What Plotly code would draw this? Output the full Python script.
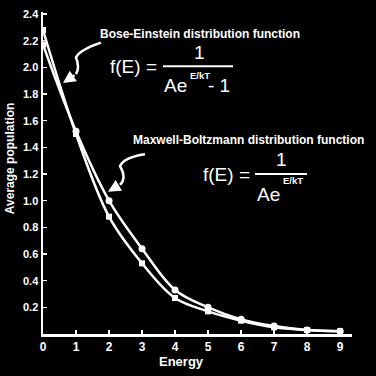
import plotly.graph_objects as go

energy = [0, 1, 2, 3, 4, 5, 6, 7, 8, 9]
bose_einstein = [2.28, 1.50, 0.88, 0.53, 0.27, 0.17, 0.10, 0.05, 0.03, 0.02]
maxwell_boltzmann = [2.17, 1.52, 1.00, 0.64, 0.33, 0.20, 0.11, 0.06, 0.03, 0.02]
x_ticks = [0, 1, 2, 3, 4, 5, 6, 7, 8, 9]
y_ticks = [0.2, 0.4, 0.6, 0.8, 1.0, 1.2, 1.4, 1.6, 1.8, 2.0, 2.2, 2.4]
y_tick_text = ["0.2", "0.4", "0.6", "0.8", "1.0", "1.2", "1.4", "1.6", "1.8", "2.0", "2.2", "2.4"]

W = H = 376
L, R, T, B = 43, 24, 8, 42
PW, PH = W - L - R, H - T - B

def px(x, y):
    return (x - L) / PW, (H - B - y) / PH

FONT = "Liberation Sans Narrow, Liberation Sans, Arial, sans-serif"
fig = go.Figure()
fig.add_trace(go.Scatter(x=energy, y=maxwell_boltzmann, mode="lines+markers",
                         line=dict(color="white", width=2.5, shape="spline"),
                         marker=dict(symbol="circle", size=7, color="white"),
                         name="Maxwell-Boltzmann", hoverinfo="skip"))
fig.add_trace(go.Scatter(x=energy, y=bose_einstein, mode="lines+markers",
                         line=dict(color="white", width=2.5, shape="spline"),
                         marker=dict(symbol="square", size=6, color="white"),
                         name="Bose-Einstein", hoverinfo="skip"))

def path_from(points):
    pts = [px(a, b) for a, b in points]
    d = "M %f,%f" % pts[0]
    rest = pts[1:]
    i = 0
    while i + 1 < len(rest):
        d += " Q %f,%f %f,%f" % (rest[i][0], rest[i][1], rest[i + 1][0], rest[i + 1][1])
        i += 2
    if i < len(rest):
        d += " L %f,%f" % rest[i]
    return d

shapes = [
    dict(type="path", xref="paper", yref="paper",
         path=path_from([(101, 39), (80, 46), (76, 54), (80, 64), (76, 71)]),
         line=dict(color="white", width=2.5)),
    dict(type="path", xref="paper", yref="paper",
         path=path_from([(145, 152), (124, 155), (120, 164), (127, 176), (120, 183)]),
         line=dict(color="white", width=2.5)),
]

annotations = []
def text(x, y, s, size, anchor="left", bold=True):
    ax, ay = px(x, y)
    annotations.append(dict(x=ax, y=ay, xref="paper", yref="paper", text=s, showarrow=False,
                            xanchor=anchor, yanchor="middle", borderpad=0,
                            font=dict(color="white", size=size, family=FONT,
                                      weight="bold" if bold else "normal")))

def arrow(x0, y0, x1, y1):
    ax, ay = px(x1, y1)
    annotations.append(dict(x=ax, y=ay, xref="paper", yref="paper", ax=x0 - x1, ay=y0 - y1,
                            axref="pixel", ayref="pixel", text="", showarrow=True,
                            arrowhead=2, arrowsize=1, arrowwidth=2.5, arrowcolor="white"))

arrow(76, 71, 63, 80)
arrow(120, 183, 108, 190)

text(99, 30, "Bose-Einstein distribution function", 12)
text(109, 63, "f(E) =", 19, bold=False)
text(199, 49, "1", 19, anchor="center", bold=False)
text(163, 82, "Ae", 19, bold=False)
text(189, 72, "E/kT", 9.5)
text(207, 82, "- 1", 19, bold=False)
shapes.append(dict(type="line", xref="paper", yref="paper",
                   x0=px(163, 63)[0], y0=px(163, 63)[1], x1=px(233, 63)[0], y1=px(233, 63)[1],
                   line=dict(color="white", width=2)))

text(132, 138, "Maxwell-Boltzmann distribution function", 12)
text(202, 173, "f(E) =", 19, bold=False)
text(281, 157, "1", 19, anchor="center", bold=False)
text(256, 193, "Ae", 19, bold=False)
text(282, 179, "E/kT", 9.5)
shapes.append(dict(type="line", xref="paper", yref="paper",
                   x0=px(255, 172)[0], y0=px(255, 172)[1], x1=px(307, 172)[0], y1=px(307, 172)[1],
                   line=dict(color="white", width=2)))

text(181, 362, "Energy", 13, anchor="center")
ax_, ay_ = px(10, 156)
annotations.append(dict(x=ax_, y=ay_, xref="paper", yref="paper", text="Average population",
                        showarrow=False, textangle=-90, xanchor="center", yanchor="middle",
                        font=dict(color="white", size=12, family=FONT, weight="bold")))

fig.update_layout(
    width=W, height=H, margin=dict(l=L, r=R, t=T, b=B),
    paper_bgcolor="black", plot_bgcolor="black", showlegend=False,
    shapes=shapes, annotations=annotations, hovermode=False,
    xaxis=dict(range=[0, 9.36], tickvals=x_ticks, ticks="inside", ticklen=4, tickwidth=1.5,
               tickcolor="white", showline=True, linecolor="white", linewidth=2.5,
               showgrid=False, zeroline=False,
               tickfont=dict(color="white", size=12, family=FONT, weight="bold")),
    yaxis=dict(range=[0, 2.415], tickvals=y_ticks, ticktext=y_tick_text, ticks="inside",
               ticklen=4, tickwidth=1.5, tickcolor="white", showline=True, linecolor="white",
               linewidth=2.5, showgrid=False, zeroline=False,
               tickfont=dict(color="white", size=11, family=FONT, weight="bold")),
)
fig.write_html("out.html", config={"displayModeBar": False, "staticPlot": True},
               post_script="document.body.style.margin='0';document.body.style.background='black';")
